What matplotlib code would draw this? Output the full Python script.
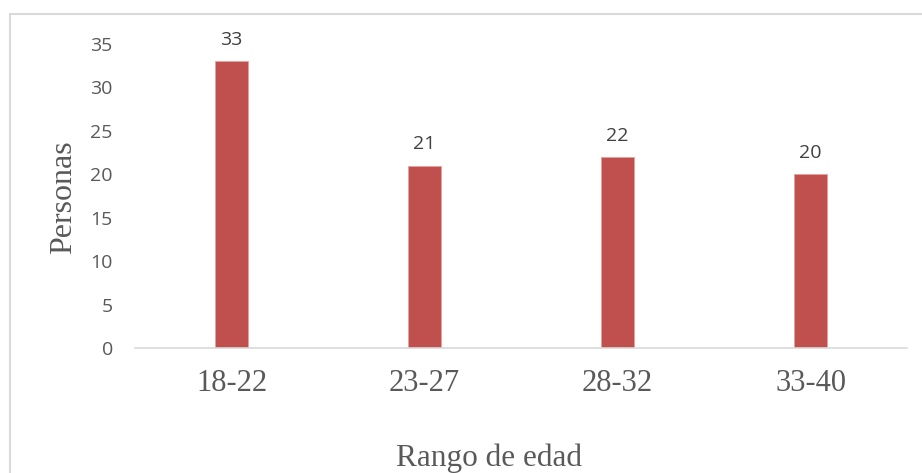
import matplotlib.pyplot as plt
from matplotlib.patches import Rectangle

# Data
categorias = ['18-22', '23-27', '28-32', '33-40']
personas = [33, 21, 22, 20]
yticks = [0, 5, 10, 15, 20, 25, 30, 35]

W, H = 922, 473
fig = plt.figure(figsize=(W / 100, H / 100), dpi=100)

# outer chart border (goes past right/bottom edge)
fig.patches.append(Rectangle((10 / W, -0.2), 1.2, 1.2 - 14 / H,
                             transform=fig.transFigure, fill=False,
                             edgecolor='#D9D9D9', linewidth=1.5))

ax = fig.add_axes([135 / W, (H - 348) / H, (907 - 135) / W, (348 - 44) / H])
x = range(len(categorias))
bars = ax.bar(x, personas, width=0.17, color='#C0504D', edgecolor='#E8A09E', linewidth=0.6)

for xi, v in zip(x, personas):
    ax.text(xi, v + 1.4, str(v), ha='center', va='bottom',
            fontsize=14, color='#404040', family='Open Sans')

ax.set_xlim(-0.5, len(categorias) - 0.5)
ax.set_ylim(0, 35)
ax.set_yticks(yticks)
ax.set_xticks(list(x))
ax.set_xticklabels(categorias, family='Liberation Serif', fontsize=22, color='#595959')
for lbl in ax.get_yticklabels():
    lbl.set_family('Open Sans')
    lbl.set_fontsize(14)
    lbl.set_color('#595959')
ax.tick_params(axis='y', length=0, pad=16)
ax.tick_params(axis='x', length=0, pad=15)

for s in ['top', 'right', 'left']:
    ax.spines[s].set_visible(False)
ax.spines['bottom'].set_color('#D9D9D9')
ax.spines['bottom'].set_linewidth(1.2)

fig.text(64 / W, 1 - 197 / H, 'Personas', rotation=90, ha='center', va='center',
         family='Liberation Serif', fontsize=23, color='#595959')
fig.text(489 / W, 1 - 458 / H, 'Rango de edad', ha='center', va='center',
         family='Liberation Serif', fontsize=22.5, color='#595959')

fig.savefig('out.png', dpi=100)
